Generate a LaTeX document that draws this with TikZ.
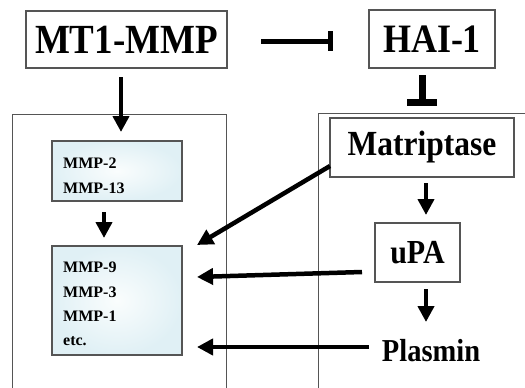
\documentclass[tikz,border=0pt]{standalone}
\usepackage{fontspec}
\setmainfont{Liberation Serif}
\usetikzlibrary{arrows.meta}
\definecolor{edgegray}{RGB}{85,85,85}
\definecolor{mmpouter}{RGB}{224,240,245}
\definecolor{mmpinner}{RGB}{250,253,253}
\newcommand{\tall}[1]{\scalebox{1}[1.12]{#1}}
\tikzset{
  x=1pt, y=-1pt,
  bigbox/.style={draw=edgegray, line width=1.1pt, fill=white, inner sep=0pt, font=\bfseries},
  mmpbox/.style={draw=edgegray, line width=1.1pt, inner sep=0pt,
    shading=radial, inner color=mmpinner, outer color=mmpouter},
  mmptext/.style={anchor=base west, inner sep=0pt, font=\fontsize{16}{16}\selectfont\bfseries},
  frame/.style={draw=edgegray, line width=0.9pt},
  act/.style={line width=4.5pt, -{Triangle[width=16pt,length=16pt]}},
  inhib/.style={line width=5pt, -{Bar[width=20pt]}},
}
\begin{document}
\begin{tikzpicture}
\useasboundingbox (0,0) rectangle (525,388);

% compartment frames, open below the picture edge
\draw[frame] (12,400) -- (12,114) -- (226,114) -- (226,400);
\draw[frame] (318,400) -- (318,113) -- (530,113);

% top-level regulators
\node[bigbox, minimum width=201pt, minimum height=57pt,
      font=\fontsize{37}{37}\selectfont\bfseries] (mt1) at (126.5,39.5) {\tall{MT1-MMP}};
\node[bigbox, minimum width=126pt, minimum height=58pt,
      font=\fontsize{36}{36}\selectfont\bfseries] (hai) at (432,39) {\tall{HAI-1}};

% protease cascade on the right
\node[bigbox, minimum width=184pt, minimum height=59pt,
      font=\fontsize{31.5}{31.5}\selectfont\bfseries] (mat) at (422,147.5) {\tall{Matriptase}};
\node[bigbox, minimum width=85pt, minimum height=59pt,
      font=\fontsize{30}{30}\selectfont\bfseries] (upa) at (417.5,252.5) {\tall{uPA}};
\node[inner sep=0pt, font=\fontsize{28.5}{28.5}\selectfont\bfseries] (pls) at (431,351) {\tall{Plasmin}};

% MMP groups on the left
\node[mmpbox, minimum width=130pt, minimum height=60pt] (mmpa) at (117,171) {};
\node[mmptext] (mmp2) at (63,168) {MMP-2};
\node[mmptext] (mmp13) at (63,193) {MMP-13};
\node[mmpbox, minimum width=130pt, minimum height=109pt] (mmpb) at (117,300.5) {};
\node[mmptext] (mmp9) at (63,272) {MMP-9};
\node[mmptext] (mmp3) at (63,297) {MMP-3};
\node[mmptext] (mmp1) at (63,321) {MMP-1};
\node[mmptext] (etc) at (63,345) {etc.};

% free arrow ends
\coordinate (mt1s) at (121,77);
\coordinate (mt1t) at (121,132);
\coordinate (as) at (104,212);
\coordinate (at) at (104,238);
\coordinate (inhs) at (261,41);
\coordinate (inht) at (333,41);
\coordinate (hais) at (422,75);
\coordinate (hait) at (422,106);
\coordinate (mats) at (330,166);
\coordinate (matt) at (197,245);
\coordinate (upas) at (362,272);
\coordinate (upat) at (197,277);
\coordinate (plss) at (369,347);
\coordinate (plst) at (197,347);
\coordinate (m2s) at (426,183);
\coordinate (m2t) at (426,215);
\coordinate (u2s) at (426,289);
\coordinate (u2t) at (426,322);

% connectors
\draw[act] (mt1s) -- (mt1t);
\draw[act] (as) -- (at);
\draw[inhib] (inhs) -- (inht);
\draw[line width=7pt, -{Bar[width=30pt]}] (hais) -- (hait);
\draw[act] (mats) -- (matt);
\draw[act] (upas) -- (upat);
\draw[act] (plss) -- (plst);
\draw[act] (m2s) -- (m2t);
\draw[act] (u2s) -- (u2t);
\end{tikzpicture}
\end{document}
